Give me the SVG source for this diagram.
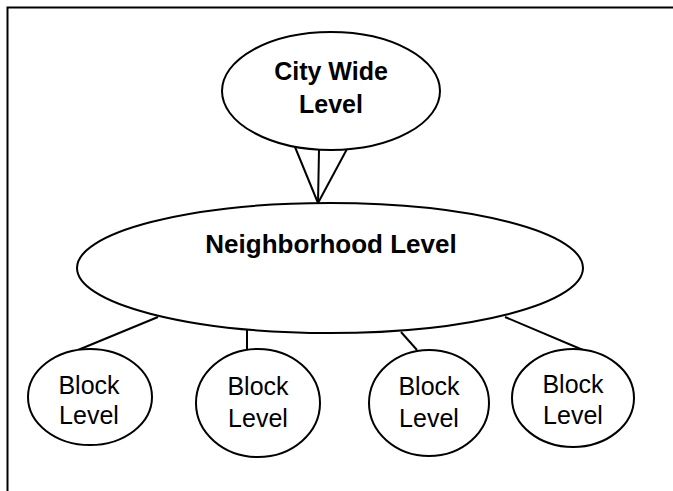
<svg xmlns="http://www.w3.org/2000/svg" width="673" height="491" viewBox="0 0 673 491">
<style>
.n{fill:#fff;stroke:#000;stroke-width:2}
.c{stroke:#000;stroke-width:2;fill:none}
.t{font-family:"Liberation Sans",Arial,sans-serif;font-size:25px;fill:#000;text-anchor:middle}
.b{font-weight:bold}
</style>
<rect width="673" height="491" fill="#fff"/>
<g id="frame"><path d="M7.5,491 V7.5 H673" class="c"/></g>
<g id="connectors">
<line x1="295" y1="147" x2="318" y2="203" class="c"/>
<line x1="319" y1="150" x2="318" y2="203" class="c"/>
<line x1="347" y1="149" x2="318" y2="203" class="c"/>
<line x1="158" y1="317" x2="78" y2="350" class="c"/>
<line x1="247" y1="330" x2="247" y2="350" class="c"/>
<line x1="401" y1="332" x2="417" y2="350" class="c"/>
<line x1="505" y1="317" x2="583" y2="350" class="c"/>
</g>
<g id="city">
<ellipse cx="331" cy="91" rx="109" ry="59" class="n"/>
<text x="331" y="80" class="t b">City Wide</text>
<text x="331" y="113" class="t b">Level</text>
</g>
<g id="neighborhood">
<ellipse cx="330" cy="268" rx="253" ry="65" class="n"/>
<text x="331" y="253" class="t b" style="font-size:26px">Neighborhood Level</text>
</g>
<g id="block1">
<ellipse cx="90" cy="397" rx="62" ry="48" class="n"/>
<text x="89" y="394" class="t">Block</text>
<text x="89" y="424" class="t">Level</text>
</g>
<g id="block2">
<ellipse cx="258" cy="403" rx="62" ry="54" class="n"/>
<text x="258" y="395" class="t">Block</text>
<text x="258" y="427" class="t">Level</text>
</g>
<g id="block3">
<ellipse cx="429" cy="403" rx="60" ry="53" class="n"/>
<text x="429" y="395" class="t">Block</text>
<text x="429" y="427" class="t">Level</text>
</g>
<g id="block4">
<ellipse cx="573" cy="398" rx="61" ry="49" class="n"/>
<text x="573" y="393" class="t">Block</text>
<text x="573" y="424" class="t">Level</text>
</g>
</svg>
